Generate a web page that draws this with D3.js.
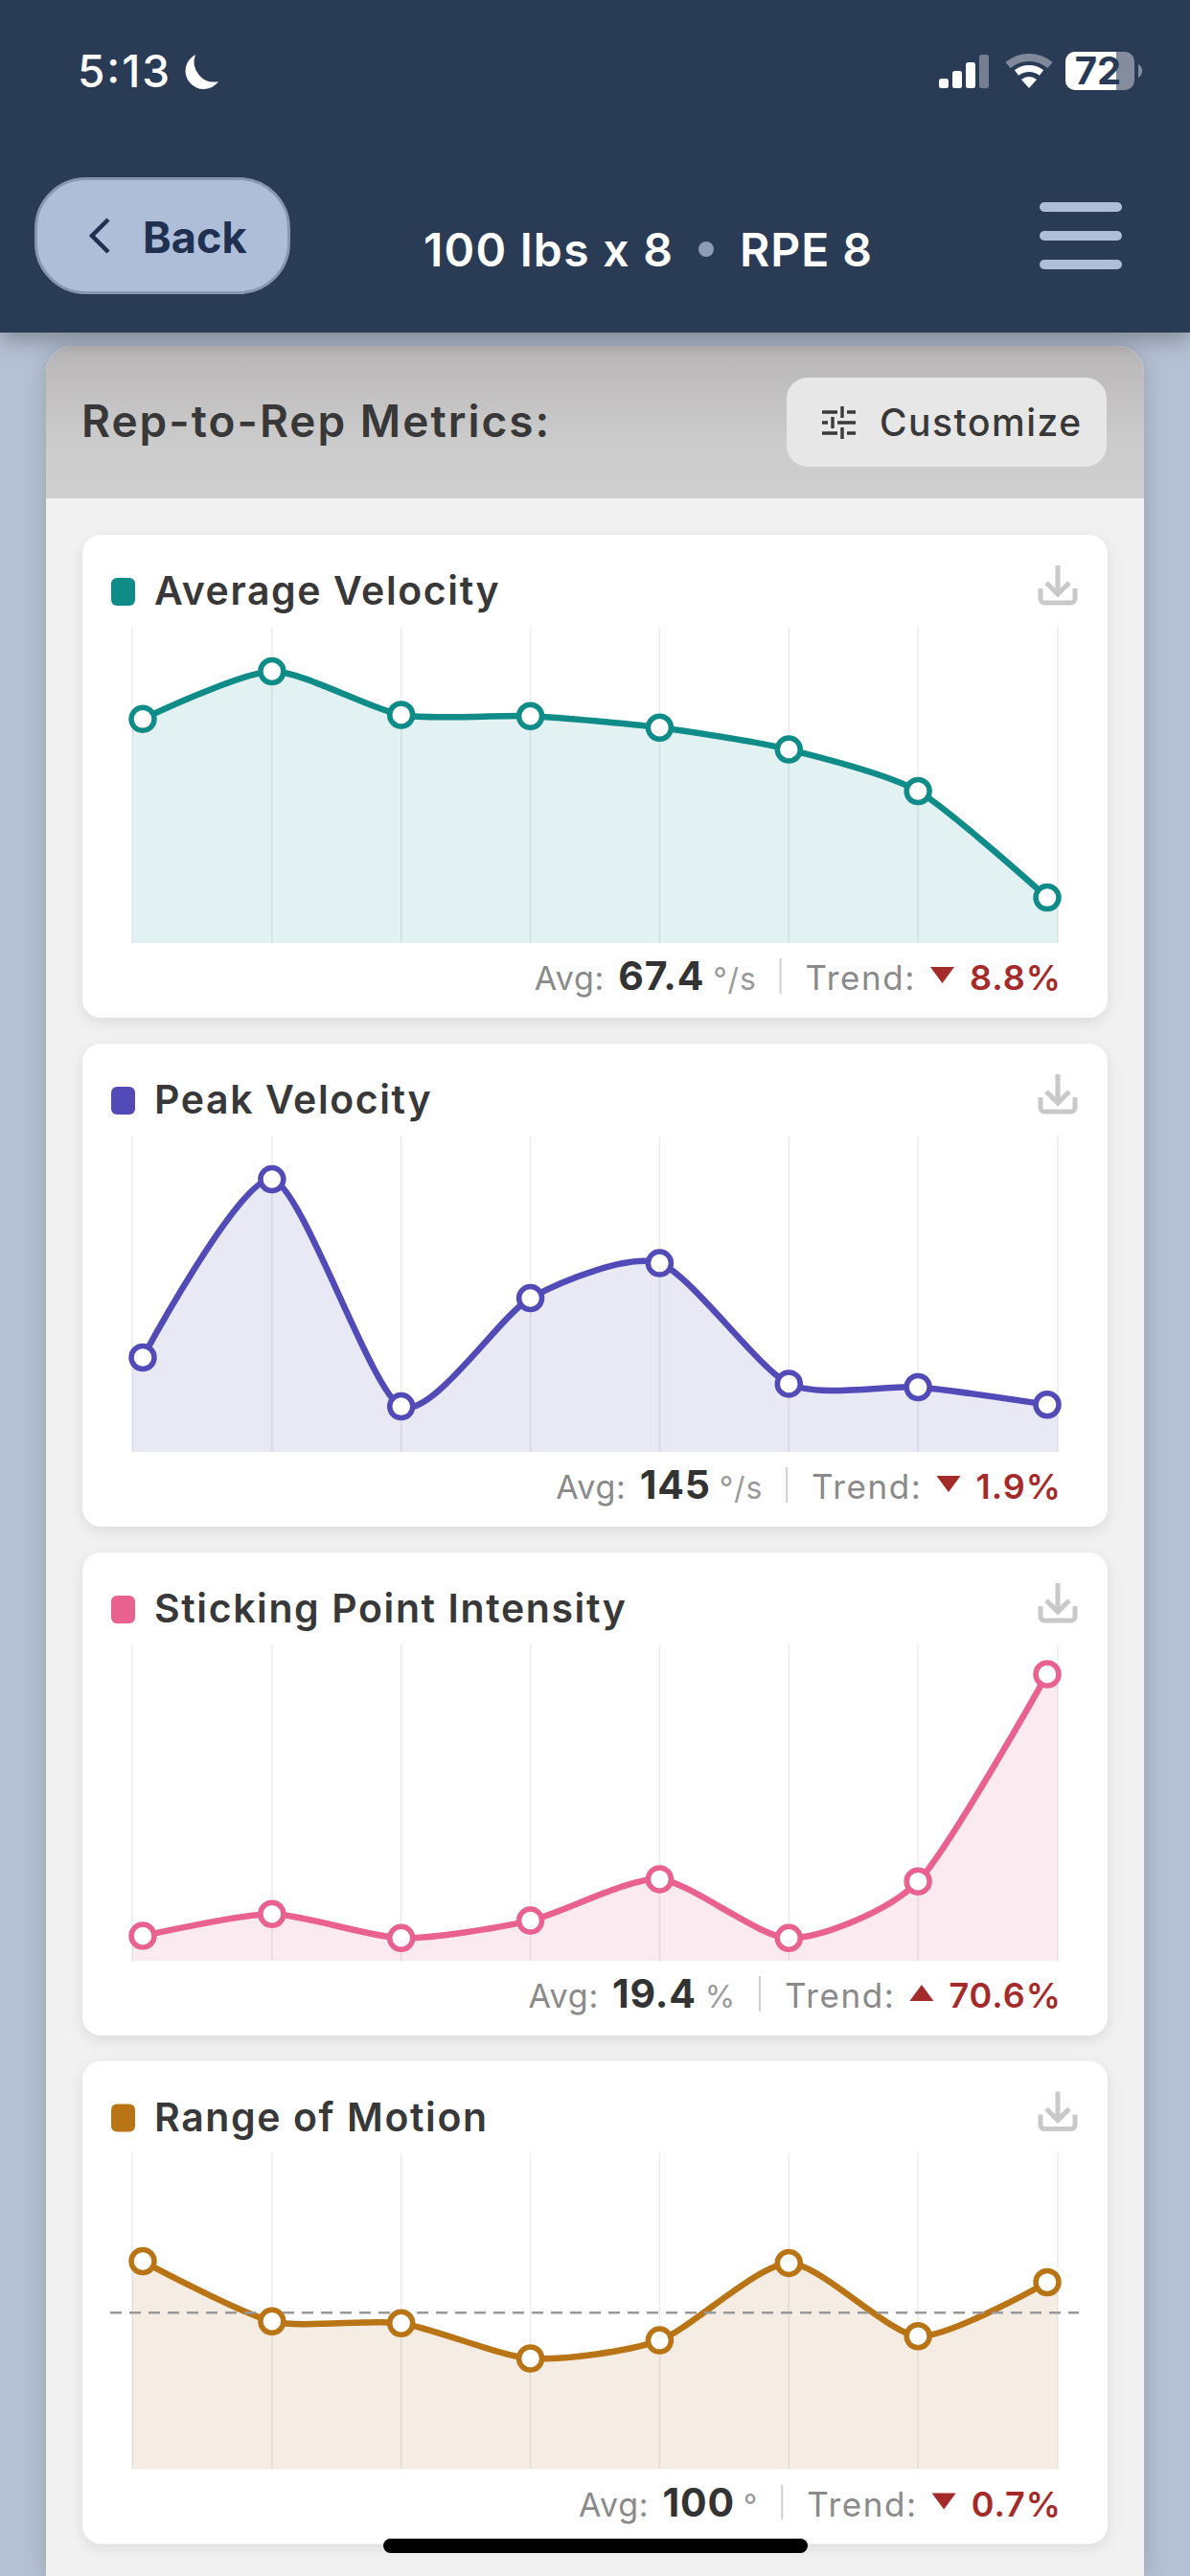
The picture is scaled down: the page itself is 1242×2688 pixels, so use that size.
<!DOCTYPE html>
<html>
<head>
<meta charset="utf-8">
<script src="https://cdnjs.cloudflare.com/ajax/libs/d3/7.8.5/d3.min.js"></script>
<style>
  html, body { margin: 0; padding: 0; background: #b5c0d4; }
  svg { display: block; }
  text { font-family: Inter, "Noto Sans", sans-serif; }
</style>
</head>
<body>
<svg id="screen" width="1242" height="2688" viewBox="0 0 1242 2688"></svg>
<script>
// Rep numbers shared by every metric
const reps = [1, 2, 3, 4, 5, 6, 7, 8];

// Per-rep values
const averageVelocity = [68.39, 70.01, 68.53, 68.49, 68.10, 67.36, 65.95, 62.34];
const peakVelocity = [143.7, 153.9, 140.9, 147.1, 149.1, 142.2, 142.0, 141.0];
const stickingPoint = [17.1, 18.1, 17.0, 17.8, 19.7, 17.0, 19.6, 29.1];
const rangeOfMotion = [101.71, 99.71, 99.65, 98.48, 99.08, 101.65, 99.22, 101.01];

// Metric labels and summary figures
const metricNames = ["Average Velocity", "Peak Velocity", "Sticking Point Intensity", "Range of Motion"];
const metricSeries = [averageVelocity, peakVelocity, stickingPoint, rangeOfMotion];
const avgLabels = ["67.4", "145", "19.4", "100"];
const unitLabels = ["°/s", "°/s", "%", "°"];
const trendLabels = ["8.8%", "1.9%", "70.6%", "0.7%"];
const trendUp = [false, false, true, false];
const yDomains = [[60.8, 71.52], [138.3, 156.4], [15.96, 30.46], [94.8, 105.31]];
const referenceLines = [null, null, null, 100];

// Metric colours
const lineColors = ["#0f8b88", "#524bb7", "#e9628f", "#b97415"];
const fillColors = ["#e2f1f1", "#e9e8f5", "#fbeaf0", "#f5ede3"];

// Card geometry
const cardTops = [558, 1089, 1620, 2150.5];
const card = { left: 86, width: 1070, height: 504, radius: 20 };
const plot = { left: 138, right: 1104, top: 96, bottom: 426 };
const firstPoint = 149, lastPoint = 1093;

const svg = d3.select("#screen");
const defs = svg.append("defs");

const addShadow = (id, dy, blur, opacity) => {
  const f = defs.append("filter").attr("id", id)
    .attr("x", "-10%").attr("y", "-10%").attr("width", "120%").attr("height", "120%");
  f.append("feDropShadow").attr("dx", 0).attr("dy", dy)
    .attr("stdDeviation", blur).attr("flood-color", "#000").attr("flood-opacity", opacity);
};
addShadow("cardShadow", 5, 7, 0.09);
addShadow("panelShadow", 0, 12, 0.16);
addShadow("headerShadow", 6, 12, 0.32);

const band = defs.append("linearGradient").attr("id", "bandFill")
  .attr("x1", 0).attr("x2", 0).attr("y1", 0).attr("y2", 1);
band.append("stop").attr("offset", 0).attr("stop-color", "#b8b6b7");
band.append("stop").attr("offset", 0.65).attr("stop-color", "#cdcccd");
band.append("stop").attr("offset", 1).attr("stop-color", "#cfcecf");

// Page background and the sheet holding the cards
svg.append("rect").attr("width", 1242).attr("height", 2688).attr("fill", "#b5c0d4");
svg.append("path").attr("d", "M48,389a28,28 0 0 1 28,-28H1166a28,28 0 0 1 28,28V2688H48Z")
  .attr("fill", "#f1f1f1").attr("filter", "url(#panelShadow)");
svg.append("path").attr("d", "M48,389a28,28 0 0 1 28,-28H1166a28,28 0 0 1 28,28V520H48Z")
  .attr("fill", "url(#bandFill)");

// Sheet heading
svg.append("text").attr("x", 85).attr("y", 456).attr("font-size", 46).attr("font-weight", 600)
  .attr("letter-spacing", 2).attr("fill", "#383838").text("Rep-to-Rep Metrics:");
svg.append("rect").attr("x", 821).attr("y", 394).attr("width", 334).attr("height", 93).attr("rx", 22)
  .attr("fill", "#e7e7e8");
const sliders = svg.append("g").attr("stroke", "#3a3a3a").attr("stroke-width", 3.4).attr("fill", "none");
sliders.append("path").attr("d", "M858,430H874M884,430H893M879,424V436M858,441H864M874,441H893M869,435V447M858,452H874M884,452H893M879,446V458");
svg.append("text").attr("x", 918).attr("y", 455).attr("font-size", 39).attr("font-weight", 500)
  .attr("letter-spacing", 1.5).attr("fill", "#383838").text("Customize");

// Navigation header
svg.append("rect").attr("width", 1242).attr("height", 347).attr("fill", "#293a56")
  .attr("filter", "url(#headerShadow)");
svg.append("text").attr("x", 81).attr("y", 91).attr("font-size", 46).attr("font-weight", 500)
  .attr("fill", "#fff").attr("textLength", 96).text("5:13");
svg.append("path").attr("d", "M204,57A19,19 0 1 0 228,85A21,21 0 0 1 204,57Z").attr("fill", "#fff");

// Status icons
const bars = svg.append("g");
[[980, 82, 1], [994, 74, 1], [1008, 65, 1], [1022, 57, 0.35]].forEach(([x, y, o]) => {
  bars.append("rect").attr("x", x).attr("y", y).attr("width", 10).attr("height", 92 - y)
    .attr("rx", 2.5).attr("fill", "#fff").attr("opacity", o);
});
const wifi = svg.append("g").attr("fill", "none").attr("stroke-linecap", "butt");
wifi.append("path").attr("d", "M1052,68A34,34 0 0 1 1096,68").attr("stroke", "#fff").attr("stroke-opacity", 0.4).attr("stroke-width", 8);
wifi.append("path").attr("d", "M1061,76A21,21 0 0 1 1087,76").attr("stroke", "#fff").attr("stroke-width", 7);
svg.append("path").attr("d", "M1066,83A12,12 0 0 1 1082,83L1074,92Z").attr("fill", "#fff");
svg.append("rect").attr("x", 1112).attr("y", 54).attr("width", 72).attr("height", 40).attr("rx", 10)
  .attr("fill", "#fff").attr("opacity", 0.42);
svg.append("path").attr("d", "M1122,54H1165V94H1122a10,10 0 0 1 -10,-10V64a10,10 0 0 1 10,-10Z").attr("fill", "#fff");
svg.append("path").attr("d", "M1188,67a8,8 0 0 1 0,14Z").attr("fill", "#fff").attr("opacity", 0.42);
svg.append("text").attr("x", 1146).attr("y", 88).attr("text-anchor", "middle").attr("font-size", 40)
  .attr("font-weight", 700).attr("fill", "#293a56").text("72");

// Back button, title and menu
svg.append("rect").attr("x", 37.5).attr("y", 186.5).attr("width", 264).attr("height", 119).attr("rx", 52)
  .attr("fill", "#aebed8").attr("stroke", "#8797b3").attr("stroke-width", 3);
svg.append("path").attr("d", "M113,229L96,246L113,263").attr("fill", "none")
  .attr("stroke", "#1f3050").attr("stroke-width", 4.5);
svg.append("text").attr("x", 149).attr("y", 264).attr("font-size", 45).attr("font-weight", 700)
  .attr("fill", "#1f3050").text("Back");
svg.append("text").attr("x", 442).attr("y", 278).attr("font-size", 48).attr("font-weight", 600)
  .attr("fill", "#fff").attr("textLength", 260).text("100 lbs x 8");
svg.append("circle").attr("cx", 737).attr("cy", 260).attr("r", 8).attr("fill", "#8e9db6");
svg.append("text").attr("x", 772).attr("y", 278).attr("font-size", 48).attr("font-weight", 600)
  .attr("fill", "#fff").attr("textLength", 138).text("RPE 8");
svg.append("g").selectAll("rect").data([211, 241, 271]).join("rect")
  .attr("x", 1085).attr("y", d => d).attr("width", 86).attr("height", 10).attr("rx", 5).attr("fill", "#aebed8");

// Shared scales and generators
const x = d3.scalePoint().domain(reps).range([firstPoint, lastPoint]);

metricNames.forEach((name, m) => {
  const top = cardTops[m];
  const values = metricSeries[m];
  const color = lineColors[m];
  const g = svg.append("g");

  g.append("rect").attr("x", card.left).attr("y", top).attr("width", card.width).attr("height", card.height)
    .attr("rx", card.radius).attr("fill", "#fff").attr("filter", "url(#cardShadow)");

  // Title row
  g.append("rect").attr("x", 116).attr("y", top + 45).attr("width", 25).attr("height", 29).attr("rx", 6)
    .attr("fill", color);
  g.append("text").attr("x", 161).attr("y", top + 73).attr("font-size", 41).attr("font-weight", 600)
    .attr("letter-spacing", 1.6).attr("fill", "#383838").text(name);

  // Download glyph
  g.append("path")
    .attr("d", `M1104,${top + 32}V${top + 62}M1092,${top + 50}L1104,${top + 62}L1116,${top + 50}M1086,${top + 56}V${top + 67}a4,4 0 0 0 4,4H1118a4,4 0 0 0 4,-4V${top + 56}`)
    .attr("fill", "none").attr("stroke", "#c9c9c9").attr("stroke-width", 5);

  // Plot
  const y = d3.scaleLinear().domain(yDomains[m]).range([top + plot.bottom, top + plot.top]);
  const line = d3.line().x((d, i) => x(reps[i])).y(d => y(d)).curve(d3.curveCardinal.tension(0.3));
  const base = y.range()[0];
  const curve = line(values);
  g.append("path")
    .attr("d", `M${plot.left},${base}L${plot.left},${y(values[0])}L${curve.slice(1)}L${plot.right},${y(values[values.length - 1])}L${plot.right},${base}Z`)
    .attr("fill", fillColors[m]);

  const gridX = reps.map((r, i) => i === 0 ? plot.left : i === reps.length - 1 ? plot.right : x(r));
  g.append("g").selectAll("line").data(gridX).join("line")
    .attr("x1", d => d).attr("x2", d => d)
    .attr("y1", y.range()[1]).attr("y2", base)
    .attr("stroke", "#000").attr("stroke-opacity", 0.08).attr("stroke-width", 1.5);

  g.append("path").attr("d", curve).attr("fill", "none").attr("stroke", color)
    .attr("stroke-width", 6.5).attr("stroke-linejoin", "round");

  if (referenceLines[m] !== null) {
    g.append("line").attr("x1", 115).attr("x2", 1126)
      .attr("y1", y(referenceLines[m])).attr("y2", y(referenceLines[m]))
      .attr("stroke", "#999").attr("stroke-width", 2.5).attr("stroke-dasharray", "12 8");
  }

  g.append("g").selectAll("circle").data(values).join("circle")
    .attr("cx", (d, i) => x(reps[i])).attr("cy", d => y(d)).attr("r", 12)
    .attr("fill", "#fff").attr("stroke", color).attr("stroke-width", 5.5);

  // Summary row, laid out from the right edge
  const baseline = top + 475;
  let cursor = 1108;
  const place = (text, size, weight, fill, gap, spacing) => {
    const t = g.append("text").attr("y", baseline).attr("font-size", size).attr("font-weight", weight)
      .attr("fill", fill).attr("letter-spacing", spacing || 0).text(text);
    const w = t.node().getComputedTextLength();
    t.attr("x", cursor - w);
    cursor -= w + gap;
    return t;
  };
  place(trendLabels[m], 36, 600, "#a52a2a", 16, 1);
  const triX = cursor - 12.5;
  const tri = trendUp[m]
    ? `M${triX - 12.5},${baseline - 7}L${triX},${baseline - 24}L${triX + 12.5},${baseline - 7}Z`
    : `M${triX - 12.5},${baseline - 24}L${triX},${baseline - 7}L${triX + 12.5},${baseline - 24}Z`;
  g.append("path").attr("d", tri).attr("fill", "#a52a2a");
  cursor -= 25 + 15;
  place("Trend:", 35, 400, "#8a8a8a", 26, 1.6);
  g.append("line").attr("x1", cursor).attr("x2", cursor)
    .attr("y1", baseline - 33).attr("y2", baseline + 4)
    .attr("stroke", "#cfcfcf").attr("stroke-width", 2);
  cursor -= 25;
  place(unitLabels[m], 32, 400, "#9a9a9a", 9, 0.8);
  place(avgLabels[m], 41, 700, "#333", 14, 0.8);
  place("Avg:", 34, 400, "#8a8a8a", 0, 0.8);
});

// Home indicator
svg.append("rect").attr("x", 400).attr("y", 2649).attr("width", 443).attr("height", 15).attr("rx", 7.5).attr("fill", "#000");
</script>
</body>
</html>
